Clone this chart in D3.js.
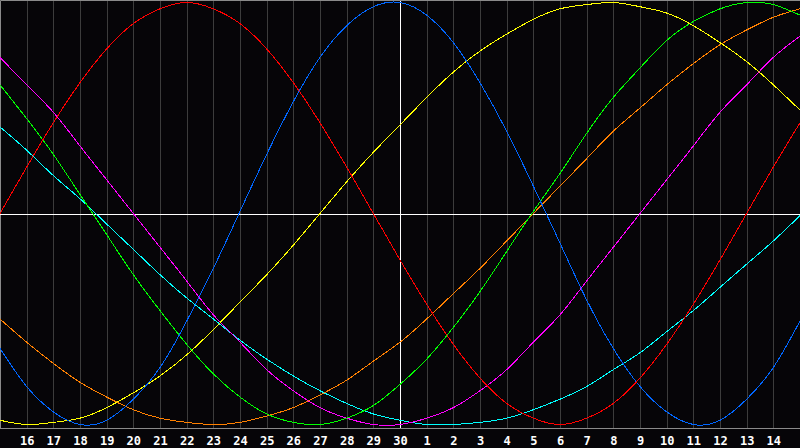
<!DOCTYPE html>
<html>
<head>
<meta charset="utf-8">
<script src="https://cdn.jsdelivr.net/npm/d3@7"></script>
<style>
    body { margin: 0; background: #060508; }
    svg { display: block; }
</style>
</head>
<body>
<svg width="800" height="448"></svg>
<script>
// day labels under the grid lines (16 .. 30, then 1 .. 14)
const dayLabels = ['16','17','18','19','20','21','22','23','24','25','26','27','28','29','30',
    '1','2','3','4','5','6','7','8','9','10','11','12','13','14'];
const todayIndex = 15; // the "30" line

// cycle values in percent, one per day from the left edge (day 15) to the right edge
const physical = [-64,-82,-94,-100,-98,-88,-73,-51,-26,1,28,53,74,89,98,100,
    94,81,62,39,13,-14,-41,-64,-82,-94,-100,-98,-88,-73,-51];
const emotional = [0,22,43,62,78,90,97,100,97,90,78,62,43,22,0,-22,
    -43,-62,-78,-90,-97,-100,-97,-90,-78,-62,-43,-22,0,22,43];
const intellectual = [61,45,28,9,-10,-29,-46,-62,-76,-87,-95,-99,-100,-97,-91,-81,
    -69,-54,-37,-18,1,19,38,55,69,82,91,97,100,99,94];
const intuitive = [74,61,48,32,16,0,-16,-32,-48,-61,-74,-84,-92,-97,-100,-100,
    -97,-92,-84,-74,-61,-48,-32,-16,0,16,32,48,61,74,84];
const aesthetic = [-98,-100,-99,-97,-92,-85,-77,-67,-55,-42,-29,-15,0,15,29,42,
    55,67,77,85,92,97,99,100,98,95,89,81,72,61,49];
const awareness = [-50,-61,-71,-80,-87,-93,-97,-99,-100,-99,-96,-92,-86,-79,-70,-61,
    -50,-38,-26,-13,0,13,26,39,50,61,71,80,87,93,97];
const spiritual = [41,30,18,7,-5,-17,-29,-40,-50,-60,-69,-77,-84,-90,-95,-98,
    -100,-100,-99,-97,-93,-88,-82,-74,-66,-56,-46,-35,-24,-13,-1];

const series = [
    {values: spiritual, color: '#00ffff'},
    {values: intuitive, color: '#ff00ff'},
    {values: awareness, color: '#ff8000'},
    {values: intellectual, color: '#00ff00'},
    {values: aesthetic, color: '#ffff00'},
    {values: physical, color: '#0066ff'},
    {values: emotional, color: '#ff0000'}
];

const width = 800, plotBottom = 428;
let svg = d3.select('svg');

let xScale = d3.scaleLinear()
    .domain([0, physical.length - 1])
    .range([0, width]);
let yScale = d3.scaleLinear()
    .domain([-100, 100])
    .range([424.5, 2.5]);

//背景格线
svg.append('g')
    .attr('class','grid')
    .selectAll('line')
    .data(dayLabels)
    .enter()
    .append('line')
    .attr('x1', (d,i) => Math.round(xScale(i+1)) + 0.5)
    .attr('x2', (d,i) => Math.round(xScale(i+1)) + 0.5)
    .attr('y1', 0)
    .attr('y2', plotBottom)
    .attr('stroke', (d,i) => i+1 === todayIndex ? '#ffffff' : '#3c3c3c')
    .attr('stroke-width', 1);

//边框
svg.append('path')
    .attr('d', `M0.5,${plotBottom}V0.5H${width}M0,${plotBottom + 0.5}H${width}`)
    .attr('fill','none')
    .attr('stroke','#8a8a8a')
    .attr('stroke-width',1);

//零线
svg.append('line')
    .attr('x1', 0)
    .attr('x2', width)
    .attr('y1', Math.round(yScale(0)) + 0.5)
    .attr('y2', Math.round(yScale(0)) + 0.5)
    .attr('stroke','#ffffff')
    .attr('stroke-width', 1);

// x axis labels
let xAxis = d3.axisBottom(xScale)
    .tickValues(d3.range(1, dayLabels.length + 1))
    .tickFormat(i => dayLabels[i-1])
    .tickSize(0)
    .tickPadding(8);
let axisG = svg.append('g')
    .attr('transform', `translate(0,${plotBottom})`)
    .call(xAxis);
axisG.select('.domain').remove();
axisG.selectAll('text')
    .attr('fill','#ffffff')
    .attr('font-family','"DejaVu Sans Mono", monospace')
    .attr('font-weight','bold')
    .attr('font-size', 12);

//曲线
let line = d3.line()
    .x((d,i) => xScale(i))
    .y(d => yScale(d))
    .curve(d3.curveNatural);

svg.append('g')
    .attr('class','cycles')
    .selectAll('path')
    .data(series)
    .enter()
    .append('path')
    .attr('d', d => line(d.values))
    .attr('fill','none')
    .attr('stroke', d => d.color)
    .attr('stroke-width', 1)
    .attr('shape-rendering','crispEdges');
</script>
</body>
</html>
